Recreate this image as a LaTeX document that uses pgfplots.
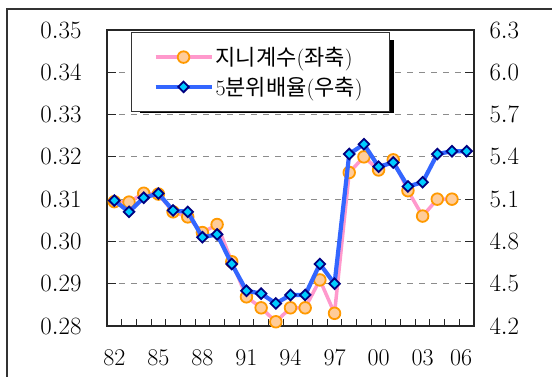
\documentclass[border=0pt]{standalone}
\usepackage{pgfplots}
\pgfplotsset{compat=1.18}
\usepackage{fontspec}
\newfontfamily\kr{Noto Sans CJK KR}
\definecolor{ginipink}{RGB}{255,153,204}
\definecolor{giniorange}{RGB}{255,153,0}
\definecolor{ginifill}{RGB}{255,204,153}
\definecolor{qblue}{RGB}{51,102,255}
\definecolor{qcyan}{RGB}{0,204,255}
\definecolor{qnavy}{RGB}{0,0,128}
\pgfdeclareplotmark{sqdiamond}{%
  \pgfpathmoveto{\pgfqpoint{0pt}{\pgfplotmarksize}}%
  \pgfpathlineto{\pgfqpoint{\pgfplotmarksize}{0pt}}%
  \pgfpathlineto{\pgfqpoint{0pt}{-\pgfplotmarksize}}%
  \pgfpathlineto{\pgfqpoint{-\pgfplotmarksize}{0pt}}%
  \pgfpathclose
  \pgfusepathqfillstroke}
\pgfplotsset{
  ginistyle/.style={ginipink, line width=3.5pt, mark=*, mark size=5.8pt,
    mark options={draw=giniorange, fill=ginifill, line width=1.8pt, solid}},
  qstyle/.style={qblue, line width=4.2pt, mark=sqdiamond, mark size=5.3pt,
    mark options={draw=qnavy, fill=qcyan, line width=1.8pt, solid}},
  common/.style={
    at={(107pt,50pt)}, anchor=south west, scale only axis,
    width=367pt, height=296pt,
    xmin=-0.5, xmax=24.5,
    tick align=inside, major tick length=9pt, minor tick length=7pt,
    ticklabel style={font=\fontsize{24}{24}\selectfont},
    axis line style={black!85, line width=1.2pt},
    every tick/.style={black!85, line width=1pt},
  }
}
\begin{document}
\begin{tikzpicture}[x=1pt,y=1pt]
\useasboundingbox (0,0) rectangle (552,376);
\draw[line width=1.2pt, black!80] (7,-30) -- (7,367) -- (620,367);
\begin{axis}[common,
  ymin=0.28, ymax=0.35,
  xtick={0,3,6,9,12,15,18,21,24},
  xticklabels={82,85,88,91,94,97,00,03,\hspace*{-11pt}06},
  minor xtick={-0.5,0.5,...,24.5},
  major x tick style={draw=none},
  xticklabel style={yshift=-20pt},
  ytick={0.28,0.29,0.30,0.31,0.32,0.33,0.34,0.35},
  ytick pos=left, xtick pos=bottom,
  yticklabel style={/pgf/number format/fixed, /pgf/number format/fixed zerofill, /pgf/number format/precision=2, xshift=-22pt},
  ymajorgrids,
  major grid style={dash pattern=on 6pt off 6pt, black!45, line width=1pt},
]
\addplot[ginistyle] coordinates {
(0,0.3094) (1,0.3093) (2,0.3114) (3,0.3112) (4,0.3070) (5,0.3058)
(6,0.3021) (7,0.3040) (8,0.2952) (9,0.2869) (10,0.2843) (11,0.2810)
(12,0.2843) (13,0.2843) (14,0.2909) (15,0.2830) (16,0.3163) (17,0.3200)
(18,0.3169) (19,0.3193) (20,0.3120) (21,0.3060) (22,0.3100) (23,0.3100)
};
\end{axis}
% legend drop shadow (behind the legend box)
\fill[black] (140,263) rectangle (393.5,336);
\begin{axis}[common,
  ymin=4.2, ymax=6.3,
  axis x line=none, axis y line*=right,
  ytick={4.2,4.5,4.8,5.1,5.4,5.7,6.0,6.3},
  yticklabel style={/pgf/number format/fixed, /pgf/number format/fixed zerofill, /pgf/number format/precision=1, xshift=12pt},
  legend style={at={(axis description cs:0.0654,0.994)}, anchor=north west,
    draw=black!80, line width=0.9pt, fill=white,
    font=\fontsize{22}{24}\selectfont, inner xsep=22pt, inner ysep=13pt,
    row sep=6pt, legend cell align=left},
]
\addplot[qstyle, forget plot] coordinates {
(0,5.09) (1,5.01) (2,5.11) (3,5.14) (4,5.02) (5,5.01) (6,4.83) (7,4.85)
(8,4.64) (9,4.45) (10,4.43) (11,4.36) (12,4.42) (13,4.42) (14,4.64)
(15,4.50) (16,5.42) (17,5.49) (18,5.33) (19,5.36) (20,5.19) (21,5.22)
(22,5.42) (23,5.44) (24,5.44)
};
\addlegendimage{legend image code/.code={
  \draw[ginipink, line width=3.5pt] (0pt,0pt) -- (56pt,0pt);
  \draw[giniorange, fill=ginifill, line width=1.8pt] (28pt,0pt) circle[radius=5.8pt];}}
\addlegendentry{\makebox[150pt][l]{{\kr 지니계수}({\kr 좌축})}}
\addlegendimage{legend image code/.code={
  \draw[qblue, line width=4.2pt] (0pt,0pt) -- (56pt,0pt);
  \draw[qnavy, fill=qcyan, line width=1.8pt] (28pt,5.3pt) -- (33.3pt,0pt) -- (28pt,-5.3pt) -- (22.7pt,0pt) -- cycle;}}
\addlegendentry{\makebox[150pt][l]{5{\kr 분위배율}({\kr 우축})}}
\end{axis}
\end{tikzpicture}
\end{document}
